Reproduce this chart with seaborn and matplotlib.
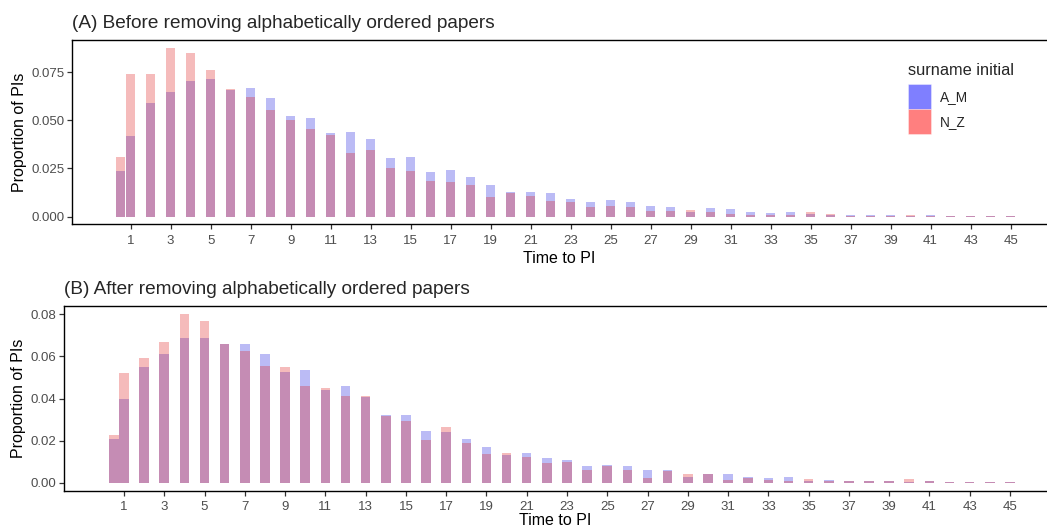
import numpy as np
import pandas as pd
import matplotlib as mpl
mpl.use("Agg")
import matplotlib.pyplot as plt
from matplotlib.patches import Patch
import seaborn as sns

# ============================================================
# Data
# ============================================================
TIME = [0.5] + list(range(1, 46))

# (A) before removing alphabetically ordered papers
A_AM = [0.0237, 0.0418, 0.0589, 0.0646, 0.0703, 0.0714, 0.0657, 0.0667, 0.0615, 0.0522,
        0.0511, 0.0434, 0.0439, 0.0403, 0.0304, 0.0309, 0.0232, 0.0242, 0.0206, 0.0164,
        0.0128, 0.0128, 0.0123, 0.0092, 0.0076, 0.0086, 0.0076, 0.0055, 0.0050, 0.0024,
        0.0045, 0.0040, 0.0024, 0.0019, 0.0024, 0.0014, 0.0009, 0.0009, 0.0009, 0.0009,
        0.0003, 0.0009, 0.0005, 0.0004, 0.0004, 0.0004]
A_NZ = [0.0309, 0.0740, 0.0740, 0.0874, 0.0848, 0.0760, 0.0662, 0.0620, 0.0553, 0.0501,
        0.0454, 0.0423, 0.0330, 0.0346, 0.0252, 0.0237, 0.0185, 0.0180, 0.0164, 0.0102,
        0.0123, 0.0107, 0.0081, 0.0076, 0.0050, 0.0055, 0.0050, 0.0029, 0.0029, 0.0035,
        0.0024, 0.0014, 0.0009, 0.0009, 0.0009, 0.0024, 0.0016, 0.0003, 0.0003, 0.0003,
        0.0009, 0.0003, 0.0005, 0.0004, 0.0004, 0.0004]

# (B) after removing alphabetically ordered papers
B_AM = [0.0208, 0.0398, 0.0550, 0.0611, 0.0688, 0.0688, 0.0659, 0.0659, 0.0611, 0.0526,
        0.0535, 0.0440, 0.0459, 0.0407, 0.0322, 0.0322, 0.0246, 0.0241, 0.0208, 0.0170,
        0.0131, 0.0141, 0.0117, 0.0108, 0.0079, 0.0084, 0.0079, 0.0060, 0.0060, 0.0027,
        0.0041, 0.0041, 0.0027, 0.0022, 0.0027, 0.0008, 0.0013, 0.0008, 0.0008, 0.0008,
        0.0003, 0.0008, 0.0003, 0.0003, 0.0003, 0.0003]
B_NZ = [0.0227, 0.0521, 0.0592, 0.0669, 0.0802, 0.0768, 0.0659, 0.0626, 0.0554, 0.0550,
        0.0459, 0.0450, 0.0412, 0.0412, 0.0317, 0.0293, 0.0203, 0.0265, 0.0189, 0.0136,
        0.0141, 0.0122, 0.0093, 0.0098, 0.0060, 0.0079, 0.0060, 0.0022, 0.0055, 0.0041,
        0.0041, 0.0013, 0.0022, 0.0013, 0.0008, 0.0017, 0.0008, 0.0008, 0.0008, 0.0008,
        0.0017, 0.0008, 0.0003, 0.0003, 0.0003, 0.0003]

GROUPS = ["A_M", "N_Z"]
PALETTE = {"A_M": "blue", "N_Z": "red"}
X_TICKS = list(range(1, 46, 2))

TITLE_A = "(A) Before removing alphabetically ordered papers"
TITLE_B = "(B) After removing alphabetically ordered papers"


def long_df(am, nz):
    return pd.DataFrame({
        "time": TIME * 2,
        "prop": am + nz,
        "initial": ["A_M"] * len(am) + ["N_Z"] * len(nz),
    })


# ============================================================
# Plot
# ============================================================
sns.set_style("white")
plt.rcParams["font.family"] = ["Liberation Sans", "DejaVu Sans"]

fig = plt.figure(figsize=(10.47, 5.27), dpi=100)
W, H = 1047, 527
ax_a = fig.add_axes([72 / W, 1 - 224 / H, (1046 - 72) / W, (224 - 40) / H])
ax_b = fig.add_axes([64 / W, 1 - 491 / H, (1047 - 64) / W, (491 - 306) / H])

panels = [
    (ax_a, long_df(A_AM, A_NZ), TITLE_A, (-1.93, 46.77), (-0.0038, 0.0916),
     [0, 0.025, 0.05, 0.075], ["0.000", "0.025", "0.050", "0.075"], 4.5, 2.5),
    (ax_b, long_df(B_AM, B_NZ), TITLE_B, (-1.98, 46.84), (-0.0038, 0.0839),
     [0, 0.02, 0.04, 0.06, 0.08], ["0.00", "0.02", "0.04", "0.06", "0.08"], 3.5, 0.0),
]

for ax, df, title, xlim, ylim, yt, ytl, xpad, lpad in panels:
    sns.barplot(
        data=df, x="time", y="prop", hue="initial",
        hue_order=GROUPS, palette=PALETTE,
        dodge=False, native_scale=True, errorbar=None,
        alpha=0.3, width=0.95, linewidth=0, ax=ax, legend=False,
    )
    ax.set_xlim(*xlim)
    ax.set_ylim(*ylim)
    ax.set_xticks(X_TICKS)
    ax.set_xticklabels([str(t) for t in X_TICKS])
    ax.set_yticks(yt)
    ax.set_yticklabels(ytl)
    ax.tick_params(axis="both", bottom=True, left=True, direction="out",
                   length=3.5, width=0.9, color="#333333",
                   labelsize=9.5, labelcolor="#4D4D4D", pad=2)
    ax.tick_params(axis="x", pad=xpad)
    ax.set_xlabel("Time to PI", fontsize=11.5, color="black", labelpad=lpad)
    ax.set_ylabel("Proportion of PIs", fontsize=11.5, color="black", labelpad=3)
    for side in ["left", "bottom", "top"]:
        ax.spines[side].set_color("black")
        ax.spines[side].set_linewidth(1.0)
    ax.spines["right"].set_visible(False)
    ax.set_title(title, loc="left", fontsize=13.7, pad=9, x=0)

# Legend
handles = [Patch(facecolor=PALETTE[g], alpha=0.5, edgecolor="white", linewidth=0.5)
           for g in GROUPS]
leg = ax_a.legend(
    handles, GROUPS, title="surname initial",
    loc="upper left", bbox_to_anchor=(898 / W, 1 - 53 / H),
    bbox_transform=fig.transFigure, frameon=False,
    fontsize=9.8, title_fontsize=11.8,
    handlelength=1.76, handleheight=2.45, handletextpad=0.6,
    labelspacing=0.0, borderpad=0.2,
)
leg._legend_box.align = "left"
leg._legend_box.sep = 5

fig.savefig("out.png", dpi=100)
